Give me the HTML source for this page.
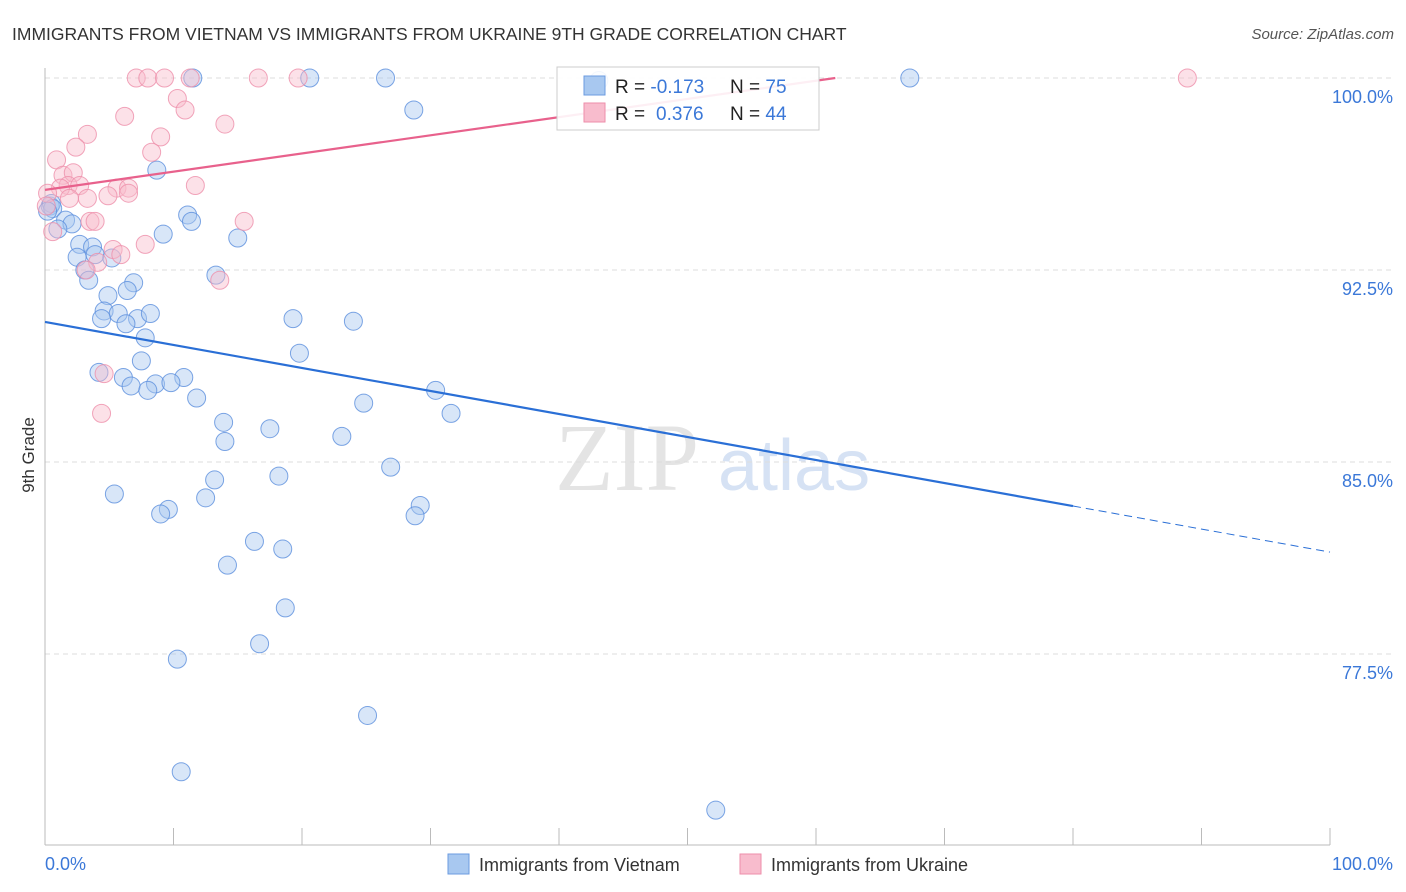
<!DOCTYPE html>
<html><head><meta charset="utf-8"><style>
body{margin:0;background:#fff;font-family:"Liberation Sans",sans-serif}
svg{display:block}
</style></head><body>
<svg width="1406" height="892">
<text x="12" y="40" font-size="17.5" fill="#333">IMMIGRANTS FROM VIETNAM VS IMMIGRANTS FROM UKRAINE 9TH GRADE CORRELATION CHART</text>
<text x="1394" y="39" font-size="15" fill="#555" font-style="italic" text-anchor="end">Source: ZipAtlas.com</text>
<text x="555" y="490" font-size="96" font-family="Liberation Serif,serif" fill="#e4e4e4">ZIP</text>
<text x="718" y="490" font-size="72" fill="#d6e2f4">atlas</text>
<g id="grid"></g>
<line x1="45" y1="68" x2="45" y2="845" stroke="#bbb"/>
<line x1="45" y1="845" x2="1330" y2="845" stroke="#bbb"/>
<text x="34" y="455" font-size="17" fill="#333" transform="rotate(-90 34 455)" text-anchor="middle">9th Grade</text>
<text x="45" y="870" font-size="18" fill="#3b78d8">0.0%</text>
<text x="1393" y="870" font-size="18" fill="#3b78d8" text-anchor="end">100.0%</text>
<g id="pts"></g>
<g id="lines"></g>
<rect x="557" y="67" width="262" height="63" fill="#fff" fill-opacity="0.9" stroke="#ccc"/>
<rect x="584" y="76" width="21" height="19" fill="#a8c8f0" stroke="#6b9be0"/>
<rect x="584" y="103" width="21" height="19" fill="#f8bccd" stroke="#ee8eaa"/>
<text font-size="19" fill="#222"><tspan x="615" y="93">R = </tspan><tspan fill="#3b78d8">-0.173</tspan><tspan x="730">N = </tspan><tspan fill="#3b78d8">75</tspan></text>
<text font-size="19" fill="#222"><tspan x="615" y="120">R = </tspan><tspan x="656" fill="#3b78d8">0.376</tspan><tspan x="730">N = </tspan><tspan fill="#3b78d8">44</tspan></text>
<rect x="448" y="854" width="21" height="20" fill="#a8c8f0" stroke="#6b9be0"/>
<text x="479" y="871" font-size="18" fill="#333">Immigrants from Vietnam</text>
<rect x="740" y="854" width="21" height="20" fill="#f8bccd" stroke="#ee8eaa"/>
<text x="771" y="871" font-size="18" fill="#333">Immigrants from Ukraine</text>
</svg>
<script>
const yTicks=[100,92.5,85,77.5];
const yTickLabels=["100.0%","92.5%","85.0%","77.5%"];
const xTicks=[0,10,20,30,40,50,60,70,80,90,100];
const vietX=[11.5,20.6,26.5,67.3,43.1,28.7,8.7,0.4,0.5,0.6,0.2,11.1,11.4,1.6,2.1,1.0,9.2,15.0,2.7,3.7,2.5,3.9,5.2,3.1,13.3,3.4,6.9,6.4,4.9,4.6,5.7,4.4,7.2,6.3,8.2,19.3,24.0,7.8,19.8,7.5,4.2,6.1,10.8,6.7,8.6,9.8,8.0,30.4,11.8,24.8,31.6,13.9,14.0,17.5,23.1,26.9,18.2,13.2,5.4,12.5,29.2,9.6,9.0,28.8,16.3,18.5,14.2,18.7,16.7,10.3,25.1,10.6,52.2];
const vietY=[100,100,100,100,99.9,98.75,96.4,95.0,95.1,94.9,94.8,94.65,94.4,94.45,94.3,94.1,93.9,93.75,93.5,93.4,93.0,93.1,92.97,92.5,92.3,92.1,92.0,91.7,91.5,90.9,90.8,90.6,90.6,90.4,90.8,90.6,90.5,89.85,89.25,88.95,88.5,88.3,88.3,87.97,88.05,88.1,87.8,87.8,87.5,87.3,86.9,86.55,85.8,86.3,86.0,84.8,84.45,84.3,83.75,83.6,83.3,83.15,82.97,82.9,81.9,81.6,80.97,79.3,77.9,77.3,75.1,72.9,71.4];
const ukrX=[7.1,8.0,9.3,11.3,16.6,19.7,88.9,10.3,10.9,6.2,14.0,3.3,9.0,2.4,8.3,0.9,1.4,2.2,1.8,2.7,1.2,5.6,6.5,11.7,0.2,1.9,3.3,4.9,6.5,3.5,3.9,15.5,0.6,7.8,5.3,5.9,4.1,3.2,13.6,4.6,4.4,0.1];
const ukrY=[100,100,100,100,100,100,100,99.2,98.75,98.5,98.2,97.8,97.7,97.3,97.1,96.8,96.2,96.3,95.8,95.8,95.7,95.7,95.7,95.8,95.5,95.3,95.3,95.4,95.5,94.4,94.4,94.4,94.0,93.5,93.3,93.1,92.8,92.5,92.1,88.45,86.9,95.0];
const vietTrend=[[0,90.47],[80,83.28]];
const vietTrendDash=[[80,83.28],[100,81.48]];
const ukrTrend=[[0,95.63],[61.5,100]];
const X=v=>45+v*12.85, Y=v=>78+(100-v)*25.6;
const NS="http://www.w3.org/2000/svg";
const mk=(t,a,p)=>{const e=document.createElementNS(NS,t);for(const k in a)e.setAttribute(k,a[k]);p.appendChild(e);return e;};
const grid=document.getElementById('grid');
yTicks.forEach((t,i)=>{
 const l=mk('line',{x1:45,x2:1393,y1:Y(t),y2:Y(t),stroke:'#ddd','stroke-dasharray':'5,4'},grid);
 
 
 const tx=mk('text',{x:1393,y:Y(t)+25,'font-size':18,fill:'#3b78d8','text-anchor':'end'},grid);
 tx.textContent=yTickLabels[i];
 
 
});
xTicks.forEach(t=>{
 const l=mk('line',{x1:X(t),x2:X(t),y1:828,y2:845,stroke:'#bbb'},grid);
 
 
});
const pts=document.getElementById('pts');
vietX.forEach((x,i)=>{
 const c=mk('circle',{cx:X(x),cy:Y(vietY[i]),r:9,fill:'#a8c8f0','fill-opacity':0.45,stroke:'#5b8fdd','stroke-opacity':0.8,'stroke-width':1},pts);
 
 
});
ukrX.forEach((x,i)=>{
 const c=mk('circle',{cx:X(x),cy:Y(ukrY[i]),r:9,fill:'#f8bccd','fill-opacity':0.45,stroke:'#ee8eaa','stroke-opacity':0.8,'stroke-width':1},pts);
 
 
});
const lines=document.getElementById('lines');
const ln=(p,col,w,dash,name)=>{
 const l=mk('line',{x1:X(p[0][0]),y1:Y(p[0][1]),x2:X(p[1][0]),y2:Y(p[1][1]),stroke:col,'stroke-width':w},lines);
 if(dash)l.setAttribute('stroke-dasharray',dash);
 return l;
};
const a=ln(vietTrend,'#2a6fd6',2.2,null);


const b=ln(vietTrendDash,'#2a6fd6',1,'8,5');


const c=ln(ukrTrend,'#e8618c',2.2,null);


</script>
</body></html>
